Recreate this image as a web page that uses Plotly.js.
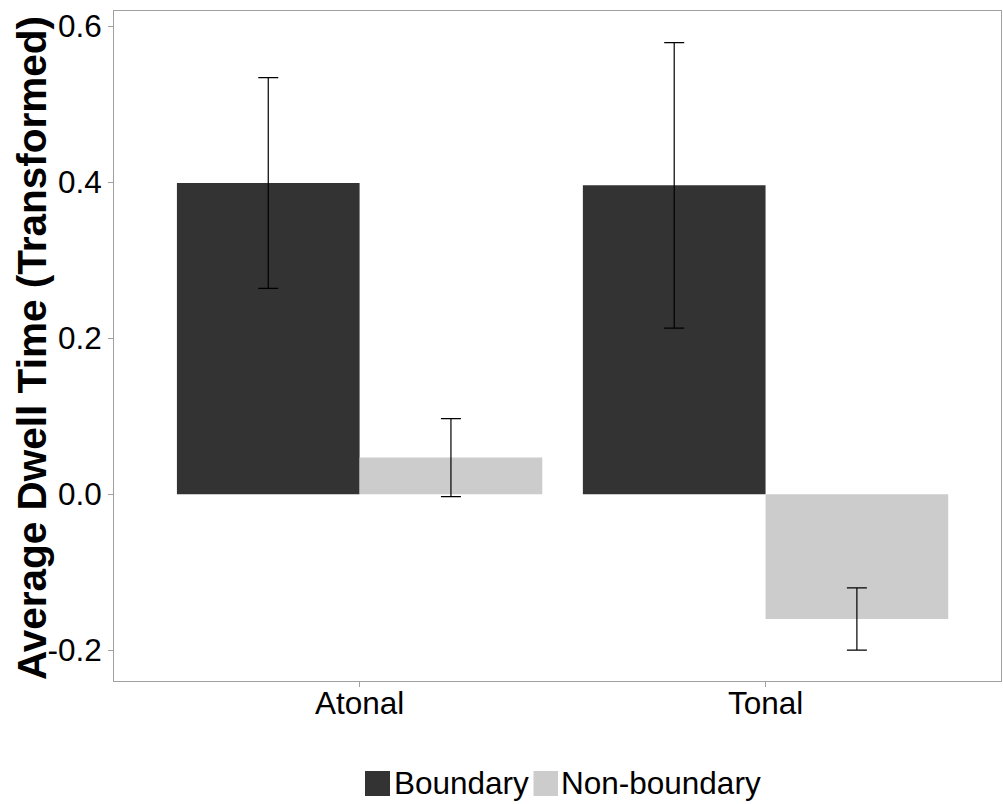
<!DOCTYPE html>
<html>
<head>
<meta charset="utf-8">
<script src="https://cdn.plot.ly/plotly-3.0.1.min.js"></script>
<style>html,body{margin:0;padding:0;background:#fff;}#chart{width:1003px;height:804px;}</style>
</head>
<body>
<div id="chart"></div>
<script>
var categories = ["Atonal", "Tonal"];
var seriesNames = ["Boundary", "Non-boundary"];
var boundaryValues = [0.399, 0.396];
var boundaryErrors = [0.135, 0.183];
var nonBoundaryValues = [0.047, -0.160];
var nonBoundaryErrors = [0.050, 0.040];
var yTickValues = [-0.2, 0.0, 0.2, 0.4, 0.6];
var yTickLabels = ["-0.2", "0.0", "0.2", "0.4", "0.6"];
var yTitle = "Average Dwell Time (Transformed)";
var colors = ["#333333", "#cccccc"];

var font = "Liberation Sans, Arial, sans-serif";

function barTrace(name, vals, errs, color) {
  return {
    type: "bar", name: name, x: categories, y: vals,
    marker: {color: color, line: {width: 0}},
    error_y: {type: "data", array: errs, visible: true, color: "#000000", thickness: 1.2, width: 10},
    showlegend: false, hoverinfo: "none"
  };
}

var data = [
  barTrace(seriesNames[0], boundaryValues, boundaryErrors, colors[0]),
  barTrace(seriesNames[1], nonBoundaryValues, nonBoundaryErrors, colors[1])
];

var L = 114, R = 1001, T = 11, B = 681;
function px(x){ return (x - L) / (R - L); }
function py(y){ return (B - y) / (B - T); }

var layout = {
  width: 1003, height: 804,
  margin: {l: L, r: 1003 - R, t: T, b: 804 - B, pad: 0},
  paper_bgcolor: "#ffffff", plot_bgcolor: "#ffffff",
  barmode: "group", bargap: 0.1, bargroupgap: 0,
  font: {family: font, color: "#000000"},
  xaxis: {
    type: "category", range: [-0.605, 1.58],
    showline: true, linecolor: "#a0a0a0", linewidth: 1, mirror: true,
    ticks: "outside", ticklen: 5, tickcolor: "#a0a0a0", tickwidth: 1,
    showgrid: false, zeroline: false,
    ticklabelstandoff: -11,
    tickfont: {family: font, size: 31.5, color: "#000000"}
  },
  yaxis: {
    range: [-0.2395, 0.6195],
    tickvals: yTickValues, ticktext: yTickLabels,
    showline: true, linecolor: "#a0a0a0", linewidth: 1, mirror: true,
    ticks: "outside", ticklen: 5, tickcolor: "#a0a0a0", tickwidth: 1,
    showgrid: false, zeroline: false,
    tickfont: {family: font, size: 31.5, color: "#000000"}
  },
  shapes: [
    {type: "rect", xref: "paper", yref: "paper", x0: px(365), x1: px(390), y0: py(796), y1: py(771), fillcolor: colors[0], line: {width: 0}},
    {type: "rect", xref: "paper", yref: "paper", x0: px(533.5), x1: px(558), y0: py(796), y1: py(771), fillcolor: colors[1], line: {width: 0}}
  ],
  annotations: [
    {xref: "paper", yref: "paper", x: px(32), y: py(348), text: "<b>" + yTitle + "</b>", textangle: -90, showarrow: false, xanchor: "center", yanchor: "middle", font: {family: font, size: 40.5, color: "#000000"}},
    {xref: "paper", yref: "paper", x: px(392), y: py(783), text: seriesNames[0], showarrow: false, xanchor: "left", yanchor: "middle", font: {family: font, size: 31.5, color: "#000000"}},
    {xref: "paper", yref: "paper", x: px(559), y: py(783), text: seriesNames[1], showarrow: false, xanchor: "left", yanchor: "middle", font: {family: font, size: 31.5, color: "#000000"}}
  ]
};

Plotly.newPlot("chart", data, layout, {displayModeBar: false, staticPlot: true});
</script>
</body>
</html>
